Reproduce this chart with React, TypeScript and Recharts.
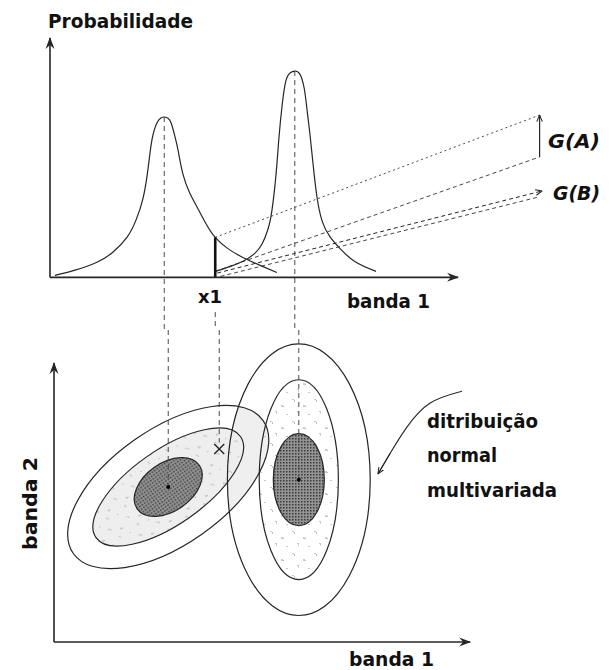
import React from "react";
import {
  ComposedChart,
  Line,
  XAxis,
  YAxis,
  ReferenceLine,
  ReferenceArea,
  ReferenceDot,
} from "recharts";

const INK = "#262626";
const FONT = '"DejaVu Sans", Verdana, sans-serif';

const B1_DOMAIN = [0, 100];
const PROB_DOMAIN = [-0.22, 1];
const B2_DOMAIN = [0, 76.5];

// sample pixel value in banda 1 / banda 2
const X1 = 40.5;
const X1_B2 = 47.3;

// class A density along banda 1
const A_X = [1.2, 6.1, 11.5, 15.4, 18.9, 21.1, 22.8, 24, 25, 26.2, 27.1, 28, 28.9, 29.7, 30.6, 31.4, 32.6, 34.3, 36, 38.2, 40.5, 43.6, 47.3, 51.5, 55.6];
const A_P = [0.008, 0.03, 0.063, 0.105, 0.168, 0.24, 0.33, 0.45, 0.575, 0.645, 0.665, 0.67, 0.665, 0.645, 0.59, 0.53, 0.43, 0.35, 0.295, 0.225, 0.167, 0.12, 0.083, 0.05, 0.02];

// class B density along banda 1
const B_X = [40.5, 44.1, 47.3, 50.2, 52, 53.4, 54.4, 55.4, 56.1, 56.9, 57.8, 58.9, 60, 61.2, 62.3, 63, 63.7, 64.5, 65.4, 66.7, 68.6, 71.1, 74.8, 79.9];
const B_P = [0.025, 0.045, 0.067, 0.1, 0.14, 0.2, 0.28, 0.43, 0.58, 0.72, 0.82, 0.855, 0.862, 0.85, 0.79, 0.7, 0.6, 0.47, 0.34, 0.235, 0.17, 0.12, 0.065, 0.025];

// ends of the G(A) / G(B) guide lines
const G_A_X = 120;
const G_A_TOP = 0.678;
const G_A_BOTTOM = 0.503;
const G_B_START_X = [41, 41.8];
const G_B_START_P = [0.018, 0.004];
const G_B_END_X = [120.6, 119.6];
const G_B_END_P = [0.361, 0.335];

// class means in banda 1 / banda 2 and contour tilt (degrees)
const MEAN_B1 = [28, 60];
const MEAN_B2 = [38, 39.8];
const TILT = [35, 0];
// contour semi-axes, outer -> inner
const CONTOUR_RX = [
  [28.4, 21.6, 9.3],
  [17.5, 9.7, 6.25],
];
const CONTOUR_RY = [
  [14.2, 9.1, 5.9],
  [33.3, 24.5, 11.3],
];

// curved pointer towards the contours
const POINTER_X = [100, 92.2, 86.5, 82.4, 79.4];
const POINTER_Y = [61.5, 58.6, 52.7, 46.3, 41.2];

const curveA = A_X.map((x, i) => ({ x, p: A_P[i] }));
const curveB = B_X.map((x, i) => ({ x, p: B_P[i] }));
const pointer = POINTER_X.map((x, i) => ({ x, y: POINTER_Y[i] }));
const pA_x1 = A_P[A_X.indexOf(X1)];
const pB_x1 = B_P[B_X.indexOf(X1)];
const peaks = [Math.max(...A_P), Math.max(...B_P)];

const ArrowLine = (head: string, width = 1.3, dash?: string) => (p: any) => (
  <line
    x1={p.x1}
    y1={p.y1}
    x2={p.x2}
    y2={p.y2}
    stroke={INK}
    strokeWidth={width}
    strokeDasharray={dash}
    markerEnd={`url(#${head})`}
  />
);

type Paint = { fill?: string; stroke?: string; clip?: string; clipId?: string };

const contourShape = (tilt: number, paint: Paint) => (r: any) => {
  const cx = r.x + r.width / 2;
  const cy = r.y + r.height / 2;
  const rx = Math.abs(r.width) / 2;
  const ry = Math.abs(r.height) / 2;
  const tr = `rotate(${-tilt} ${cx} ${cy})`;
  const el = (
    <ellipse
      cx={cx}
      cy={cy}
      rx={rx}
      ry={ry}
      transform={tr}
      fill={paint.fill ?? "none"}
      stroke={paint.stroke ?? "none"}
      strokeWidth={1.2}
      clipPath={paint.clip}
    />
  );
  if (!paint.clipId) return el;
  return (
    <g>
      <clipPath id={paint.clipId}>
        <ellipse cx={cx} cy={cy} rx={rx} ry={ry} transform={tr} />
      </clipPath>
      {el}
    </g>
  );
};

const contour = (k: number, lvl: number, paint: Paint, key: string) => (
  <ReferenceArea
    key={key}
    x1={MEAN_B1[k] - CONTOUR_RX[k][lvl]}
    x2={MEAN_B1[k] + CONTOUR_RX[k][lvl]}
    y1={MEAN_B2[k] - CONTOUR_RY[k][lvl]}
    y2={MEAN_B2[k] + CONTOUR_RY[k][lvl]}
    ifOverflow="visible"
    shape={contourShape(TILT[k], paint)}
  />
);

const Cross = (p: any) => (
  <path
    d={`M${p.cx - 5},${p.cy - 5}L${p.cx + 5},${p.cy + 5}M${p.cx + 5},${p.cy - 5}L${p.cx - 5},${p.cy + 5}`}
    stroke={INK}
    strokeWidth={1.4}
  />
);

const CAPTIONS = [
  { text: "Probabilidade", x: 48, y: 28, w: 145, size: 20 },
  { text: "x1", x: 198, y: 303, w: 24, size: 18 },
  { text: "banda 1", x: 347, y: 308, w: 83, size: 20 },
  { text: "G(A)", x: 548, y: 148, w: 52, size: 20, italic: true },
  { text: "G(B)", x: 553, y: 200, w: 47, size: 20, italic: true },
  { text: "ditribuição", x: 427, y: 428, w: 111, size: 19 },
  { text: "normal", x: 427, y: 462, w: 70, size: 19 },
  { text: "multivariada", x: 427, y: 497, w: 130, size: 19 },
  { text: "banda 1", x: 349, y: 666, w: 85, size: 20 },
];

const dashed = { stroke: "#4a4a4a", strokeWidth: 1, strokeDasharray: "5 4" };

export default function App() {
  return (
    <div style={{ position: "absolute", left: 0, top: 0, width: 613, height: 670, background: "#fff" }}>
      <svg width={0} height={0} style={{ position: "absolute" }}>
        <defs>
          <marker id="headAxis" viewBox="0 0 12 10" refX={11} refY={5} markerWidth={12} markerHeight={10} markerUnits="userSpaceOnUse" orient="auto">
            <path d="M0,0.5 L12,5 L0,9.5 L4,5 Z" fill={INK} />
          </marker>
          <marker id="headSmall" viewBox="0 0 8 8" refX={7.5} refY={4} markerWidth={7} markerHeight={7} markerUnits="userSpaceOnUse" orient="auto">
            <path d="M0,0.8 L7.5,4 L0,7.2" fill="none" stroke={INK} strokeWidth={1.2} />
          </marker>
          <pattern id="halftone" width={3} height={3} patternUnits="userSpaceOnUse">
            <rect width={3} height={3} fill="#939393" />
            <rect width={1.5} height={1.5} fill="#3c3c3c" />
          </pattern>
          <pattern id="speckle" width={22} height={22} patternUnits="userSpaceOnUse">
            <rect x={2} y={3} width={2} height={1} fill="#c6c6c6" />
            <rect x={4} y={4} width={1} height={2} fill="#bdbdbd" />
            <rect x={13} y={9} width={2} height={2} fill="#cacaca" />
            <rect x={15} y={10} width={1} height={1} fill="#bcbcbc" />
            <rect x={7} y={15} width={2} height={1} fill="#c4c4c4" />
            <rect x={8} y={16} width={1} height={2} fill="#cfcfcf" />
            <rect x={18} y={18} width={2} height={1} fill="#c8c8c8" />
          </pattern>
        </defs>
      </svg>

      {/* banda 1 densities */}
      <div style={{ position: "absolute", left: 0, top: 0 }}>
        <ComposedChart width={613} height={330} margin={{ top: 38, right: 155, bottom: 0, left: 50 }}>
          <XAxis type="number" dataKey="x" domain={B1_DOMAIN} hide allowDataOverflow />
          <YAxis type="number" domain={PROB_DOMAIN} hide allowDataOverflow />

          {[0, 1].map((k) => (
            <ReferenceLine
              key={`drop-${k}`}
              segment={[{ x: MEAN_B1[k], y: peaks[k] }, { x: MEAN_B1[k], y: PROB_DOMAIN[0] }]}
              ifOverflow="visible"
              {...dashed}
            />
          ))}
          <ReferenceLine segment={[{ x: X1, y: -0.145 }, { x: X1, y: PROB_DOMAIN[0] }]} ifOverflow="visible" {...dashed} />

          <ReferenceLine
            segment={[{ x: X1, y: pA_x1 }, { x: G_A_X, y: G_A_TOP }]}
            ifOverflow="visible"
            stroke="#4a4a4a"
            strokeWidth={1}
            strokeDasharray="2 3"
          />
          <ReferenceLine
            segment={[{ x: X1, y: pB_x1 }, { x: G_A_X, y: G_A_BOTTOM }]}
            ifOverflow="visible"
            stroke="#4a4a4a"
            strokeWidth={1}
            strokeDasharray="4 3"
          />
          <ReferenceLine
            segment={[{ x: G_A_X, y: G_A_BOTTOM }, { x: G_A_X, y: G_A_TOP }]}
            ifOverflow="visible"
            shape={ArrowLine("headSmall", 1.2)}
          />
          {[0, 1].map((i) => (
            <ReferenceLine
              key={`gb-${i}`}
              segment={[{ x: G_B_START_X[i], y: G_B_START_P[i] }, { x: G_B_END_X[i], y: G_B_END_P[i] }]}
              ifOverflow="visible"
              shape={i === 0 ? ArrowLine("headSmall", 1, "4 3") : undefined}
              stroke="#4a4a4a"
              strokeWidth={1}
              strokeDasharray="4 3"
            />
          ))}

          <Line data={curveA} dataKey="p" type="natural" stroke={INK} strokeWidth={1.2} dot={false} isAnimationActive={false} />
          <Line data={curveB} dataKey="p" type="natural" stroke={INK} strokeWidth={1.2} dot={false} isAnimationActive={false} />

          <ReferenceLine segment={[{ x: X1, y: 0 }, { x: X1, y: pA_x1 }]} ifOverflow="visible" stroke="#111" strokeWidth={2.6} />

          <ReferenceLine segment={[{ x: 0, y: 0 }, { x: 100, y: 0 }]} ifOverflow="visible" shape={ArrowLine("headAxis", 1.6)} />
          <ReferenceLine segment={[{ x: 0, y: 0 }, { x: 0, y: 1 }]} ifOverflow="visible" shape={ArrowLine("headAxis", 1.6)} />
        </ComposedChart>
      </div>

      {/* banda 1 x banda 2 scatter space */}
      <div style={{ position: "absolute", left: 4, top: 330 }}>
        <ComposedChart width={609} height={340} margin={{ top: 0, right: 151, bottom: 28, left: 50 }}>
          <XAxis type="number" dataKey="x" domain={B1_DOMAIN} hide allowDataOverflow />
          <YAxis type="number" domain={B2_DOMAIN} hide allowDataOverflow />

          {/* fills */}
          {contour(1, 0, { fill: "#efefef", clip: "url(#clip-a-outer)" }, "f-b0")}
          {contour(0, 1, { fill: "#eeeeee" }, "f-a1")}
          {contour(0, 1, { fill: "url(#speckle)" }, "s-a1")}
          {contour(1, 1, { fill: "url(#speckle)" }, "s-b1")}
          {contour(0, 2, { fill: "url(#halftone)" }, "f-a2")}
          {contour(1, 2, { fill: "url(#halftone)" }, "f-b2")}

          {/* outlines */}
          {contour(0, 0, { stroke: INK, clipId: "clip-a-outer" }, "o-a0")}
          {[1, 2].map((l) => contour(0, l, { stroke: INK }, `o-a${l}`))}
          {[0, 1, 2].map((l) => contour(1, l, { stroke: INK }, `o-b${l}`))}

          {[0, 1].map((k) => (
            <ReferenceLine
              key={`rise-${k}`}
              segment={[{ x: MEAN_B1[k], y: B2_DOMAIN[1] }, { x: MEAN_B1[k], y: MEAN_B2[k] }]}
              ifOverflow="visible"
              {...dashed}
            />
          ))}
          <ReferenceLine segment={[{ x: X1, y: B2_DOMAIN[1] }, { x: X1, y: X1_B2 + 1.6 }]} ifOverflow="visible" {...dashed} />

          {[0, 1].map((k) => (
            <ReferenceDot key={`m-${k}`} x={MEAN_B1[k]} y={MEAN_B2[k]} r={2} fill="#000" stroke="none" ifOverflow="visible" />
          ))}
          <ReferenceDot x={X1} y={X1_B2} r={5} ifOverflow="visible" shape={Cross} />

          <Line data={pointer} dataKey="y" type="natural" stroke={INK} strokeWidth={1.1} dot={false} isAnimationActive={false} />
          <ReferenceLine
            segment={[
              { x: POINTER_X[3], y: POINTER_Y[3] },
              { x: POINTER_X[4], y: POINTER_Y[4] },
            ]}
            ifOverflow="visible"
            shape={ArrowLine("headSmall", 1.1)}
          />

          <ReferenceLine segment={[{ x: 0, y: 0 }, { x: 102, y: 0 }]} ifOverflow="visible" shape={ArrowLine("headAxis", 1.6)} />
          <ReferenceLine segment={[{ x: 0, y: 0 }, { x: 0, y: 68.4 }]} ifOverflow="visible" shape={ArrowLine("headAxis", 1.6)} />
        </ComposedChart>
      </div>

      <svg width={613} height={670} style={{ position: "absolute", left: 0, top: 0, pointerEvents: "none" }}>
        {CAPTIONS.map((c) => (
          <text
            key={c.text + c.y}
            x={c.x}
            y={c.y}
            fontFamily={FONT}
            fontWeight="bold"
            fontStyle={c.italic ? "italic" : "normal"}
            fontSize={c.size}
            fill="#111"
            textLength={c.w}
            lengthAdjust="spacingAndGlyphs"
          >
            {c.text}
          </text>
        ))}
        <text
          x={37}
          y={550}
          transform="rotate(-90 37 550)"
          fontFamily={FONT}
          fontWeight="bold"
          fontSize={20}
          fill="#111"
          textLength={93}
          lengthAdjust="spacingAndGlyphs"
        >
          banda 2
        </text>
      </svg>
    </div>
  );
}
